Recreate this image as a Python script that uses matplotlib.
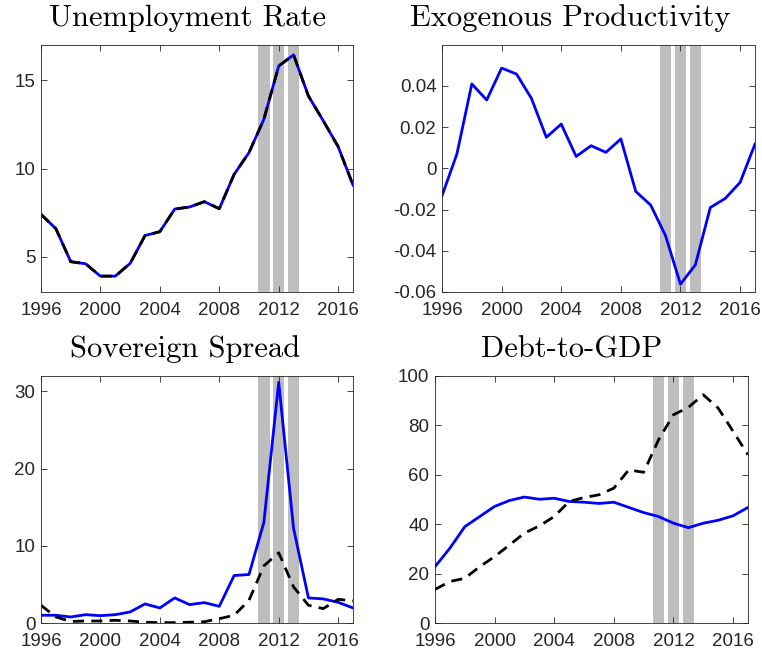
import numpy as np
import matplotlib
matplotlib.use('Agg')
import matplotlib.pyplot as plt

# data
years = list(range(1996, 2018))

unemp = [7.4, 6.59, 4.72, 4.6, 3.9, 3.9, 4.62, 6.2, 6.42, 7.7, 7.82,
         8.12, 7.72, 9.67, 10.9, 12.79, 15.81, 16.44, 14.11, 12.7, 11.24, 9.06]

prod = [-0.0133, 0.007, 0.041, 0.0332, 0.0487, 0.0458, 0.034, 0.0151, 0.0215,
        0.0058, 0.011, 0.0078, 0.0143, -0.0112, -0.0178, -0.0327, -0.0562,
        -0.0468, -0.019, -0.0146, -0.0068, 0.0118]

spread_model = [1.0, 1.0, 0.78, 1.08, 0.95, 1.08, 1.43, 2.47, 1.95, 3.25, 2.38,
                2.64, 2.16, 6.15, 6.28, 13.03, 31.17, 12.25, 3.25, 3.12, 2.68, 1.95]
spread_data = [2.3, 0.78, 0.2, 0.26, 0.26, 0.35, 0.26, 0.1, 0.05, 0.05, 0.1,
               0.17, 0.56, 1.0, 2.94, 7.4, 9.1, 4.67, 2.3, 1.86, 3.07, 2.86]

debt_model = [22.8, 30.3, 39.0, 43.1, 47.2, 49.6, 51.0, 50.1, 50.5, 49.2, 48.9,
              48.4, 48.9, 46.8, 44.7, 43.1, 40.4, 38.6, 40.4, 41.6, 43.4, 46.8]
debt_data = [13.6, 16.8, 18.1, 22.8, 26.9, 31.6, 36.4, 39.3, 43.1, 49.2, 50.8,
             51.9, 54.6, 62.0, 61.0, 74.2, 84.3, 87.3, 92.4, 87.0, 77.6, 68.1]

crisis_years = [2011, 2012, 2013]
xticks = [1996, 2000, 2004, 2008, 2012, 2016]

plt.rcParams['font.family'] = ['Liberation Sans', 'DejaVu Sans']
plt.rcParams['axes.unicode_minus'] = False

fig = plt.figure(figsize=(7.62, 6.53), dpi=100)
W, H = 762, 653


def make_ax(l, t, r, b):
    return fig.add_axes([l / W, 1 - b / H, (r - l) / W, (b - t) / H])


axes = [make_ax(41, 45, 353, 292), make_ax(442, 45, 755, 292),
        make_ax(41, 376, 353, 623), make_ax(435, 376, 748, 623)]

blue = '#0000ff'
lw = 2.0
dash = (4.0, 2.6)


def style(ax, title, tx, ylim, yticks, ylabels=None):
    for c in crisis_years:
        ax.axvspan(c - 0.38, c + 0.38, color='#bebebe', lw=0, zorder=0)
    ax.set_xlim(1996, 2017)
    ax.set_ylim(*ylim)
    ax.set_xticks(xticks)
    ax.set_yticks(yticks)
    if ylabels is not None:
        ax.set_yticklabels(ylabels)
    ax.tick_params(direction='in', length=4, width=0.6, labelsize=13.5,
                   colors='#262626', top=True, right=True, pad=4)
    ax.tick_params(axis='x', pad=7)
    for s in ax.spines.values():
        s.set_linewidth(0.6)
        s.set_color('#262626')
    ax.set_title(title, fontfamily='cmr10', fontsize=22, pad=13.5, x=tx)


ax = axes[0]
ax.plot(years, unemp, color=blue, lw=lw)
ax.plot(years, unemp, color='black', lw=lw, ls='--', dashes=dash)
style(ax, 'Unemployment Rate', 0.468, (3, 17), [5, 10, 15])

ax = axes[1]
ax.plot(years, prod, color=blue, lw=lw)
style(ax, 'Exogenous Productivity', 0.411, (-0.06, 0.0599),
      [-0.06, -0.04, -0.02, 0, 0.02, 0.04],
      ['-0.06', '-0.04', '-0.02', '0', '0.02', '0.04'])

ax = axes[2]
ax.plot(years, spread_model, color=blue, lw=lw)
ax.plot(years, spread_data, color='black', lw=lw, ls='--', dashes=dash)
style(ax, 'Sovereign Spread', 0.462, (0, 32), [0, 10, 20, 30])

ax = axes[3]
ax.plot(years, debt_model, color=blue, lw=lw)
ax.plot(years, debt_data, color='black', lw=lw, ls='--', dashes=dash)
style(ax, 'Debt-to-GDP', 0.438, (0, 100), [0, 20, 40, 60, 80, 100])

fig.savefig('out.png', dpi=100)
